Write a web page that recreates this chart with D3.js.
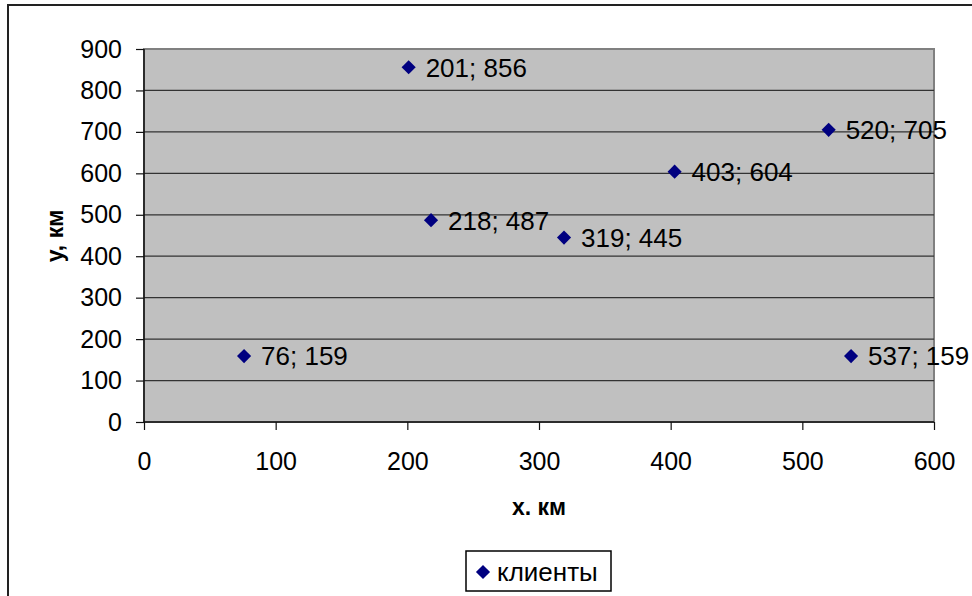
<!DOCTYPE html>
<html lang="ru">
<head>
    <meta charset="UTF-8">
    <title>клиенты</title>
    <script src="https://d3js.org/d3.v7.min.js"></script>
    <style>
        body { margin: 0; background: #fff; }
        svg text { font-family: "Liberation Sans", Arial, sans-serif; fill: #000; }
    </style>
</head>
<body>
    <div id="chart"></div>
    <script>
        // Data
        const xValues = [76, 201, 218, 319, 403, 520, 537];
        const yValues = [159, 856, 487, 445, 604, 705, 159];
        const xTicks = [0, 100, 200, 300, 400, 500, 600];
        const yTicks = [0, 100, 200, 300, 400, 500, 600, 700, 800, 900];
        const seriesName = 'клиенты';

        const width = 972, height = 596;
        const plot = { left: 144, top: 49, right: 934, bottom: 422 };

        const svg = d3.select('#chart').append('svg')
            .attr('width', width)
            .attr('height', height);

        // outer chart border (right and bottom run off the picture)
        svg.append('rect')
            .attr('x', 8).attr('y', 5)
            .attr('width', 980).attr('height', 620)
            .attr('fill', '#fff')
            .attr('stroke', '#222')
            .attr('stroke-width', 2);

        const x = d3.scaleLinear().domain([0, 600]).range([plot.left, plot.right]);
        const y = d3.scaleLinear().domain([0, 900]).range([plot.bottom, plot.top]);

        // plot area
        svg.append('rect')
            .attr('x', plot.left).attr('y', plot.top)
            .attr('width', plot.right - plot.left)
            .attr('height', plot.bottom - plot.top)
            .attr('fill', '#c0c0c0')
            .attr('stroke', '#808080')
            .attr('stroke-width', 2);

        // gridlines
        svg.append('g')
            .selectAll('line')
            .data(yTicks.filter(d => d > 0 && d < 900))
            .enter().append('line')
            .attr('x1', plot.left).attr('x2', plot.right)
            .attr('y1', d => y(d)).attr('y2', d => y(d))
            .attr('stroke', '#333')
            .attr('stroke-width', 1.2);

        // axes
        const xAxis = svg.append('g')
            .attr('transform', `translate(0,${plot.bottom})`)
            .call(d3.axisBottom(x).tickValues(xTicks).tickSize(8).tickPadding(22).tickFormat(d3.format('d')));
        const yAxis = svg.append('g')
            .attr('transform', `translate(${plot.left},0)`)
            .call(d3.axisLeft(y).tickValues(yTicks).tickSize(8).tickPadding(14).tickFormat(d3.format('d')));

        [xAxis, yAxis].forEach(a => {
            a.select('.domain').attr('stroke', '#111').attr('stroke-width', 1.5);
            a.selectAll('.tick line').attr('stroke', '#111').attr('stroke-width', 1.2);
            a.selectAll('.tick text')
                .style('font-family', '"Liberation Sans", Arial, sans-serif')
                .style('font-size', '25px')
                .attr('fill', '#000');
        });
        xAxis.select('.domain').attr('d', `M${plot.left},0H${plot.right}`);
        yAxis.select('.domain').attr('d', `M0,${plot.bottom}V${plot.top}`);

        const marker = d3.symbol().type(d3.symbolSquare).size(100);

        // points
        const points = xValues.map((v, i) => ({ x: v, y: yValues[i] }));
        svg.append('g')
            .selectAll('path')
            .data(points)
            .enter().append('path')
            .attr('d', marker)
            .attr('transform', d => `translate(${x(d.x)},${y(d.y)}) rotate(45)`)
            .attr('fill', '#000080');

        // data labels
        svg.append('g')
            .selectAll('text')
            .data(points)
            .enter().append('text')
            .attr('x', d => x(d.x) + 17)
            .attr('y', d => y(d.y))
            .attr('dy', '0.36em')
            .style('font-size', '26px')
            .text(d => `${d.x}; ${d.y}`);

        // axis titles
        svg.append('text')
            .attr('x', 539).attr('y', 515)
            .attr('text-anchor', 'middle')
            .style('font-size', '23px')
            .style('font-weight', 'bold')
            .text('x. км');

        svg.append('text')
            .attr('transform', 'translate(63,236) rotate(-90)')
            .attr('text-anchor', 'middle')
            .style('font-size', '23px')
            .style('font-weight', 'bold')
            .text('у, км');

        // legend
        const legend = svg.append('g');
        legend.append('rect')
            .attr('x', 466).attr('y', 551)
            .attr('width', 145).attr('height', 40)
            .attr('fill', '#fff')
            .attr('stroke', '#000')
            .attr('stroke-width', 1.5);
        legend.append('path')
            .attr('d', marker)
            .attr('transform', 'translate(483,572) rotate(45)')
            .attr('fill', '#000080');
        legend.append('text')
            .attr('x', 497).attr('y', 572)
            .attr('dy', '0.36em')
            .style('font-size', '26px')
            .text(seriesName);
    </script>
</body>
</html>
